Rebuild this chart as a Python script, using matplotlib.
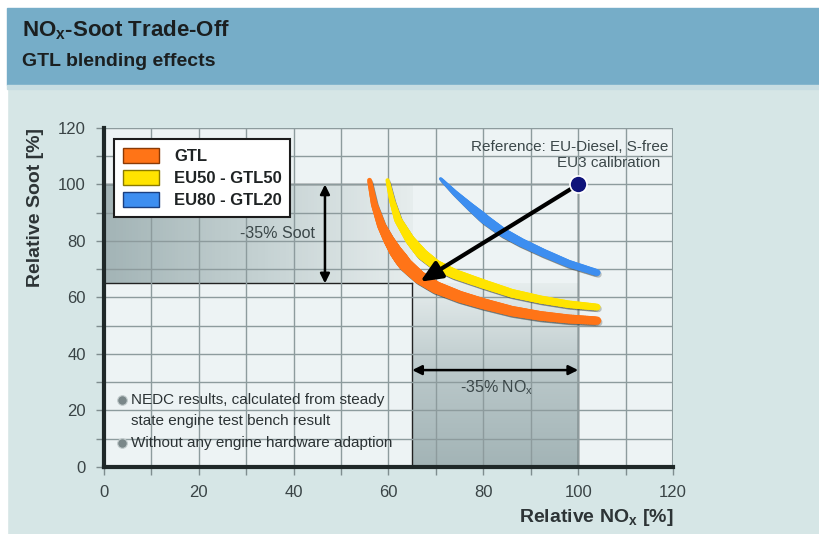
import numpy as np
import matplotlib
matplotlib.use('Agg')
import matplotlib.pyplot as plt
from matplotlib.patches import Patch, Rectangle
from matplotlib.collections import LineCollection
from matplotlib.colors import LinearSegmentedColormap

plt.rcParams['font.family'] = ['Liberation Sans', 'DejaVu Sans']
plt.rcParams['mathtext.fontset'] = 'custom'
plt.rcParams['mathtext.rm'] = 'Liberation Sans'
plt.rcParams['mathtext.bf'] = 'Liberation Sans:bold'

# 读取的曲线数据 (Relative NOx, Relative Soot)
gtl_x = [56.0, 57.0, 58.5, 60.0, 61.5, 63.5, 66.5, 70.0, 75.0, 80.0, 86.0, 92.0, 98.0, 104.0]
gtl_y = [101.5, 93.0, 85.5, 80.5, 76.3, 71.8, 67.2, 63.6, 60.3, 57.8, 55.2, 53.5, 52.4, 51.8]
eu50_x = [59.8, 60.8, 62.0, 64.5, 67.0, 70.0, 74.0, 80.0, 86.0, 92.0, 98.0, 104.0]
eu50_y = [101.5, 94.0, 87.5, 80.5, 75.5, 71.5, 68.3, 64.8, 61.5, 59.3, 57.6, 56.6]
eu80_x = [71.0, 74.0, 77.2, 80.5, 84.2, 88.0, 92.7, 98.0, 104.0]
eu80_y = [102.0, 97.0, 92.2, 87.5, 83.0, 79.5, 75.8, 72.0, 68.8]

ref_point = (100, 100)
target_point = (66.7, 65.6)
soot_cut = 65
nox_cut = 65

series_names = ['GTL', 'EU50 - GTL50', 'EU80 - GTL20']
series_colors = ['#ff7417', '#ffe400', '#3d8ef0']
series_edges = ['#8a3a05', '#8a7a00', '#1a3f80']

xticks = np.arange(0, 121, 10)
yticks = np.arange(0, 121, 10)

fig = plt.figure(figsize=(8.19, 5.34), dpi=100)
fig.patch.set_facecolor('#d6e6e6')
# 白边 + 标题栏
fig.patches.append(Rectangle((0, 0), 0.0085, 1, transform=fig.transFigure, color='white', zorder=0))
fig.patches.append(Rectangle((0, 0.985), 1, 0.02, transform=fig.transFigure, color='white', zorder=0))
fig.patches.append(Rectangle((0.0085, 0.8408), 1, 0.1442, transform=fig.transFigure, color='#76adc8', zorder=0))
fig.patches.append(Rectangle((0.0085, 0.833), 1, 0.008, transform=fig.transFigure, color='#c7dde2', zorder=0))
fig.text(0.027, 0.944, r'NO$_\mathbf{x}$-Soot Trade-Off', fontsize=16, fontweight='bold',
         color='#1b1f20', va='center')
fig.text(0.027, 0.884, 'GTL blending effects', fontsize=14, fontweight='bold',
         color='#1b1f20', va='center')

ax = fig.add_axes([0.127, 0.1255, 0.6947, 0.6348])
ax.set_facecolor('#edf3f4')

# 灰色渐变区域
cm_h = LinearSegmentedColormap.from_list('h', ['#a3b4b6', '#c4d1d2', '#e6eded'])
ax.imshow(np.linspace(0, 1, 100).reshape(1, -1), cmap=cm_h, aspect='auto',
          extent=[0, nox_cut, soot_cut, 100], zorder=0.5)
cm_v = LinearSegmentedColormap.from_list('v', ['#a3b4b6', '#b9c7c9', '#e6eded'])
ax.imshow(np.linspace(1, 0, 100).reshape(-1, 1), cmap=cm_v, aspect='auto',
          extent=[nox_cut, 100, 0, soot_cut], zorder=0.5)

ax.set_xlim(0, 120)
ax.set_ylim(0, 120)
ax.set_xticks(xticks)
ax.set_yticks(yticks)
ax.set_xticklabels([str(v) if v % 20 == 0 else '' for v in xticks], fontsize=12, color='#3a4446')
ax.set_yticklabels([str(v) if v % 20 == 0 else '' for v in yticks], fontsize=12, color='#3a4446')
ax.tick_params(direction='out', length=6, width=1, color='#7f8d8f', pad=7)
ax.grid(True, color='#8d9b9d', lw=1, zorder=1)
ax.set_axisbelow(False)
for s in ['top', 'right']:
    ax.spines[s].set_visible(False)
for s in ['left', 'bottom']:
    ax.spines[s].set_linewidth(3)
    ax.spines[s].set_color('#1f2828')
    ax.spines[s].set_zorder(6)
# 顶部和右侧网格边线
ax.axhline(120, color='#8d9b9d', lw=1.5, zorder=1)
ax.axvline(120, color='#8d9b9d', lw=1.5, zorder=1)

# 细黑辅助线
ax.plot([0, 100], [100, 100], color='#222', lw=1, zorder=2)
ax.plot([0, nox_cut], [soot_cut, soot_cut], color='#222', lw=1, zorder=2)
ax.plot([nox_cut, nox_cut], [0, soot_cut], color='#222', lw=1, zorder=2)
ax.plot([100, 100], [0, 100], color='#222', lw=1, zorder=2)


def band(xs, ys, color, wmax, wmin_top, wend):
    # 把折线细分成小段, 以便线宽渐变 (形状不变)
    xs = np.asarray(xs)
    ys = np.asarray(ys)
    fx, fy = [], []
    for i in range(len(xs) - 1):
        f = np.linspace(0, 1, 12, endpoint=False)
        fx.extend(xs[i] + (xs[i + 1] - xs[i]) * f)
        fy.extend(ys[i] + (ys[i + 1] - ys[i]) * f)
    fx.append(xs[-1])
    fy.append(ys[-1])
    pts = np.column_stack([fx, fy])
    segs = np.stack([pts[:-1], pts[1:]], axis=1)
    n = len(segs)
    t = np.linspace(0, 1, n)
    widths = np.where(t < 0.35, wmin_top + (wmax - wmin_top) * t / 0.35,
                      wmax + (wend - wmax) * (t - 0.35) / 0.65)
    shadow = LineCollection(segs + np.array([0.25, -0.6]), colors='#404848', linewidths=widths,
                            capstyle='round', joinstyle='round', alpha=0.3, zorder=3.5)
    ax.add_collection(shadow)
    lc = LineCollection(segs, colors=color, linewidths=widths, capstyle='round',
                        joinstyle='round', zorder=4)
    ax.add_collection(lc)


band(eu80_x, eu80_y, series_colors[2], 7, 2.5, 5)
band(eu50_x, eu50_y, series_colors[1], 8, 3, 5)
band(gtl_x, gtl_y, series_colors[0], 10, 3.5, 6)

# 大箭头
ax.annotate('', xy=target_point, xytext=ref_point,
            arrowprops=dict(arrowstyle='-|>,head_length=0.8,head_width=0.35', lw=3,
                            color='black', shrinkA=0, shrinkB=0, mutation_scale=16),
            zorder=7)
ax.scatter([ref_point[0]], [ref_point[1]], s=150, color='#0f137a', edgecolor='white',
           linewidth=1.2, zorder=8)
ax.text(119, 113.3, 'Reference: EU-Diesel, S-free', ha='right', va='center',
        fontsize=11, color='#3b4749', zorder=8)
ax.text(117.3, 107.6, 'EU3 calibration', ha='right', va='center',
        fontsize=11, color='#3b4749', zorder=8)

# -35% 标注
ax.annotate('', xy=(46.6, 100), xytext=(46.6, soot_cut),
            arrowprops=dict(arrowstyle='<|-|>', lw=1.8, color='black',
                            shrinkA=0, shrinkB=0, mutation_scale=14), zorder=5)
ax.text(36.5, 82.5, '-35% Soot', ha='center', va='center', fontsize=11.5, color='#3b4749', zorder=5)
ax.annotate('', xy=(nox_cut, 34.3), xytext=(100, 34.3),
            arrowprops=dict(arrowstyle='<|-|>', lw=1.8, color='black',
                            shrinkA=0, shrinkB=0, mutation_scale=14), zorder=5)
ax.text(82.8, 28.2, r'-35% NO$_\mathrm{x}$', ha='center', va='center', fontsize=11.5,
        color='#3b4749', zorder=5)

# 说明文字
notes = ['NEDC results, calculated from steady', 'state engine test bench result',
         'Without any engine hardware adaption']
note_y = [23.8, 16.2, 8.6]
for txt, yy, bullet in zip(notes, note_y, [True, False, True]):
    if bullet:
        ax.scatter([3.7], [yy], s=48, color='#7a8789', edgecolor='#c3cccd', lw=0.8, zorder=6)
    ax.text(5.7, yy, txt, ha='left', va='center', fontsize=11, color='#2b3234', zorder=6)

handles = [Patch(facecolor=c, edgecolor=e, lw=1, label=n)
           for n, c, e in zip(series_names, series_colors, series_edges)]
leg = ax.legend(handles=handles, loc='upper left', bbox_to_anchor=(0.018, 0.967),
                prop={'size': 12, 'weight': 'bold'}, frameon=True, fancybox=False,
                handlelength=2.2, handleheight=1.05, borderpad=0.5, labelspacing=0.35,
                handletextpad=0.9, borderaxespad=0)
leg.get_frame().set_edgecolor('#1c1c1c')
leg.get_frame().set_linewidth(1.5)
leg.get_frame().set_facecolor('white')
leg.get_frame().set_alpha(1)
leg.set_zorder(9)
for t in leg.get_texts():
    t.set_color('#1f2324')

ax.set_xlabel(r'Relative NO$_\mathbf{x}$ [%]', fontsize=14, fontweight='bold',
              color='#2d3436', loc='right', labelpad=5)
ax.set_ylabel('Relative Soot [%]', fontsize=14, fontweight='bold',
              color='#2d3436', loc='top', labelpad=10)

fig.savefig('out.png', dpi=100, facecolor=fig.get_facecolor())
